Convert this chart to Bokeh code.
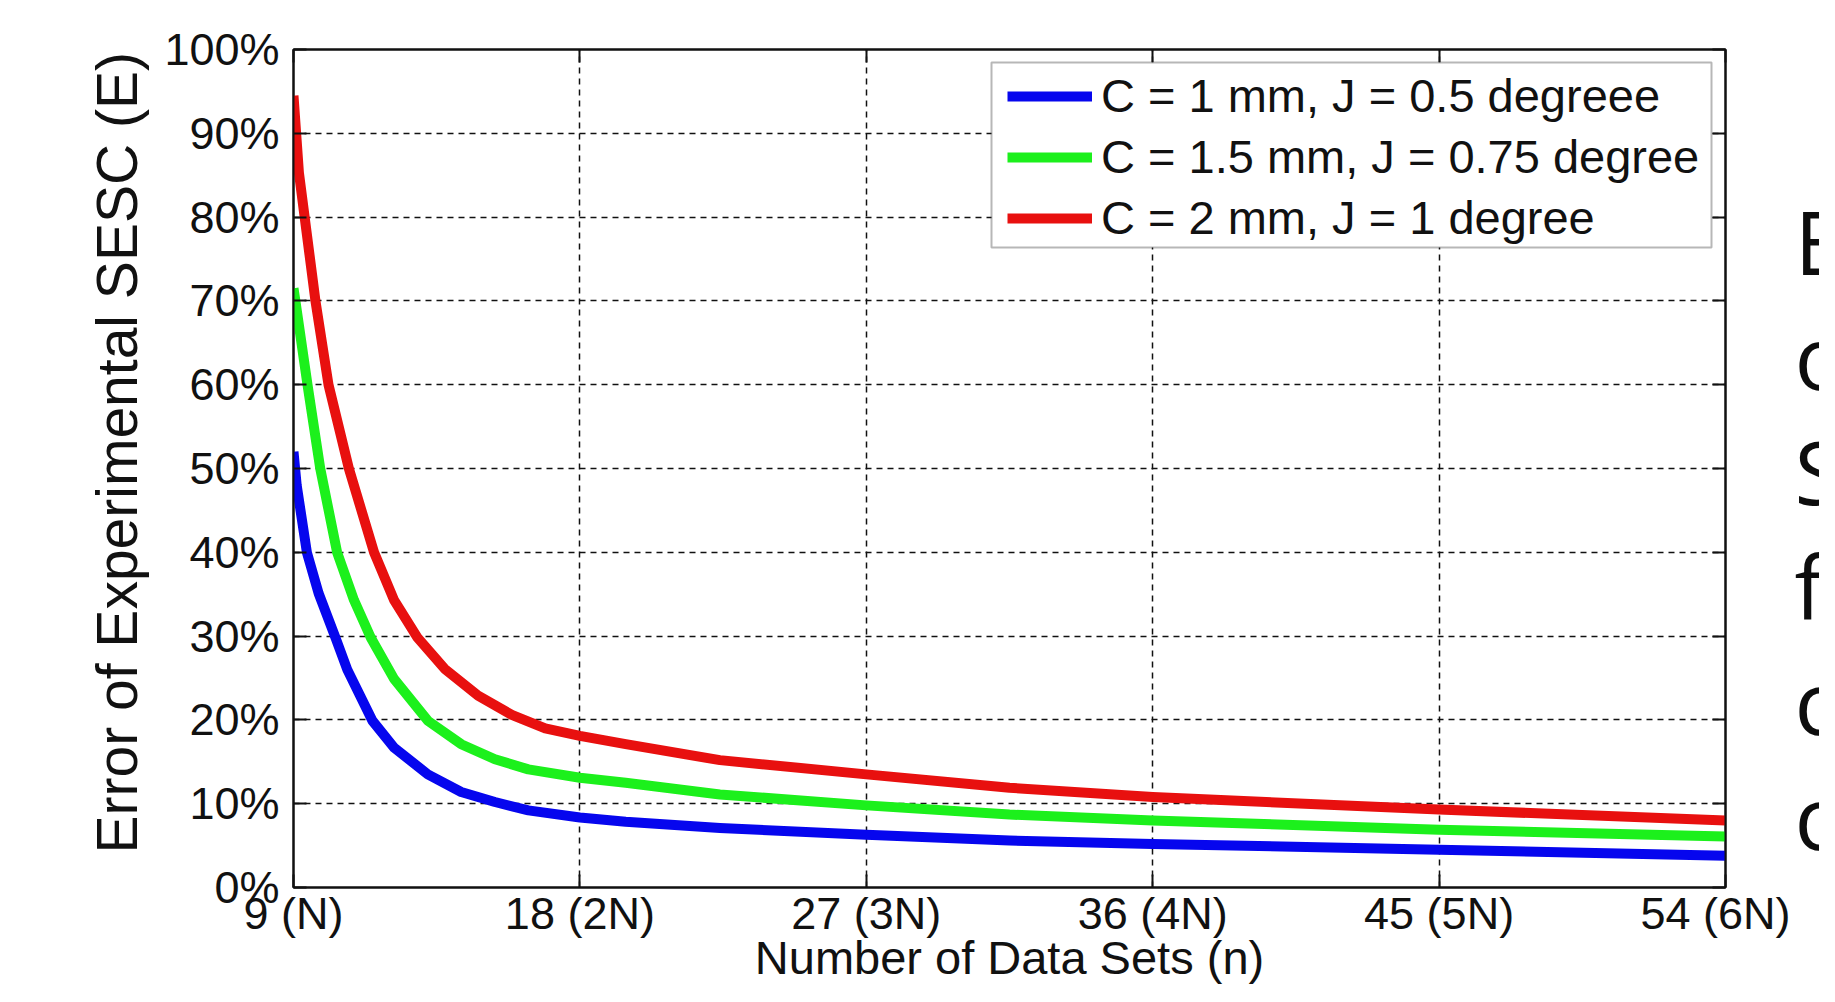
from bokeh.plotting import figure
from bokeh.layouts import row
from bokeh.models import (FixedTicker, PrintfTickFormatter, Legend, LegendItem,
                          LinearAxis, Range1d, BoxAnnotation, Title)
from bokeh.core.properties import value
from bokeh.embed import file_html
from bokeh.resources import INLINE

# ---------------- data ----------------
x_ticks = [9, 18, 27, 36, 45, 54]
x_tick_labels = ["9 (N)", "18 (2N)", "27 (3N)", "36 (4N)", "45 (5N)", "54 (6N)"]
y_ticks = [0, 10, 20, 30, 40, 50, 60, 70, 80, 90, 100]

n_blue = [9, 9.1, 9.42, 9.79, 10.32, 10.69, 11.48, 12.16, 13.22, 14.27, 15.33, 16.38,
          18, 19.44, 22.4, 27, 31.5, 36, 45, 54]
e_blue = [52, 48, 40, 35.1, 29.8, 26.0, 19.9, 16.7, 13.5, 11.4, 10.2, 9.2,
          8.35, 7.84, 7.1, 6.3, 5.6, 5.2, 4.5, 3.8]

n_green = [9, 9.06, 9.44, 9.84, 10.37, 10.9, 11.43, 12.16, 13.22, 14.27, 15.33, 16.38,
           18, 19.44, 22.4, 27, 31.5, 36, 45, 54]
e_green = [71.5, 70, 60, 50, 40, 34.3, 29.8, 24.9, 19.9, 17.1, 15.3, 14.1,
           13.1, 12.5, 11.1, 9.8, 8.7, 8.0, 6.9, 6.1]

n_red = [9, 9.17, 9.69, 10.1, 10.74, 11.53, 12.16, 12.9, 13.75, 14.8, 15.86, 16.91,
         18, 19.44, 22.4, 27, 31.5, 36, 45, 54]
e_red = [94.5, 85.3, 70, 60, 50, 40, 34.3, 29.8, 26.1, 22.9, 20.6, 19.0,
         18.1, 17.1, 15.2, 13.5, 11.9, 10.8, 9.3, 8.0]

series_labels = ["C = 1 mm, J = 0.5 degreee",
                 "C = 1.5 mm, J = 0.75 degree",
                 "C = 2 mm, J = 1 degree"]
series_colors = ["#0606ee", "#1cf01c", "#e8100f"]

side_letters = ["E", "o", "S", "f", "c", "c"]

# ---------------- main figure ----------------
FONT = "Liberation Sans"
INK = "#111111"
p = figure(width=1790, height=986, output_backend="svg", toolbar_location=None,
           x_range=Range1d(9, 54), y_range=Range1d(0, 100),
           min_border_left=293, min_border_right=65,
           min_border_top=49, min_border_bottom=97)
p.background_fill_color = "white"
p.border_fill_color = "white"
p.outline_line_color = INK
p.outline_line_width = 2

for ax in (p.xaxis[0], p.yaxis[0]):
    ax.axis_line_color = INK
    ax.axis_line_width = 2
    ax.major_tick_in = 13
    ax.major_tick_out = 0
    ax.major_tick_line_color = INK
    ax.major_tick_line_width = 2
    ax.minor_tick_line_color = None
    ax.major_label_text_font = FONT
    ax.major_label_text_font_size = "45px"
    ax.major_label_text_color = INK
    ax.axis_label_text_font = FONT
    ax.axis_label_text_font_style = "normal"
    ax.axis_label_text_color = INK

p.xaxis.ticker = FixedTicker(ticks=x_ticks)
p.xaxis.major_label_overrides = {t: s for t, s in zip(x_ticks, x_tick_labels)}
p.xaxis.major_label_standoff = 0
p.xaxis.axis_label = "Number of Data Sets (n)"
p.xaxis.axis_label_text_font_size = "47px"
p.xaxis.axis_label_standoff = -11

p.yaxis.ticker = FixedTicker(ticks=y_ticks)
p.yaxis.formatter = PrintfTickFormatter(format="%d%%")
p.yaxis.major_label_standoff = 14

# y axis title, placed outside the tick labels, anchored near the bottom
p.add_layout(Title(text="Error of Experimental SESC (E)", align="left", offset=34,
                   text_font=FONT, text_font_size="57px", text_font_style="normal",
                   text_color=INK, standoff=26), "left")

# top and right axes: inner ticks only (no labels drawn)
for ticks, side_name in ((x_ticks, "above"), (y_ticks, "right")):
    a = LinearAxis(ticker=FixedTicker(ticks=ticks), major_label_text_font_size="1px",
                   major_label_text_color=None,
                   major_tick_in=13, major_tick_out=0, major_tick_line_width=2,
                   major_tick_line_color=INK, minor_tick_line_color=None,
                   axis_line_color=INK, axis_line_width=2, major_label_standoff=0)
    p.add_layout(a, side_name)

p.xgrid.ticker = FixedTicker(ticks=x_ticks[1:-1])
p.ygrid.ticker = FixedTicker(ticks=y_ticks[1:-1])
for g in (p.xgrid[0], p.ygrid[0]):
    g.grid_line_color = INK
    g.grid_line_width = 1.5
    g.grid_line_dash = "6 5"

rs = []
for xs, ys, c in zip([n_blue, n_green, n_red], [e_blue, e_green, e_red], series_colors):
    rs.append(p.line(xs, ys, line_color=c, line_width=10, line_join="round"))

# legend box (white, black border) then the legend on top of it
p.add_layout(BoxAnnotation(left=698, right=1418, top=825, bottom=640,
                           left_units="screen", right_units="screen",
                           top_units="screen", bottom_units="screen",
                           fill_color="white", fill_alpha=1.0,
                           line_color=INK, line_width=2))
legend = Legend(items=[LegendItem(label=l, renderers=[r]) for l, r in zip(series_labels, rs)],
                location=(714, 642), orientation="vertical",
                label_text_font=FONT, label_text_font_size="47px", label_text_color=INK,
                glyph_width=85, glyph_height=40, label_standoff=9, spacing=6,
                padding=16, margin=0,
                border_line_color=None, background_fill_alpha=0.0)
p.add_layout(legend, "center")

# ---------------- side strip: slide text cut by the right edge ----------------
side = figure(frame_width=29, frame_height=986, output_backend="svg", toolbar_location=None,
              title=None, x_range=Range1d(0, 29), y_range=Range1d(986, 0),
              x_axis_type=None, y_axis_type=None,
              min_border=0, min_border_left=0, min_border_right=0,
              min_border_top=0, min_border_bottom=0)
side.grid.visible = False
side.outline_line_color = None
side.background_fill_color = "white"
side.border_fill_color = "white"
row_pos = [191 + 115 * i for i in range(len(side_letters))]
side.text(x=[4] * len(side_letters), y=row_pos, text=side_letters,
          text_font=value("Open Sans"), text_font_size="88px",
          text_color="#0d0d0d", text_baseline="alphabetic", text_align="left")

layout = row(p, side, spacing=0)
open("out.html", "w").write(file_html(layout, INLINE))
